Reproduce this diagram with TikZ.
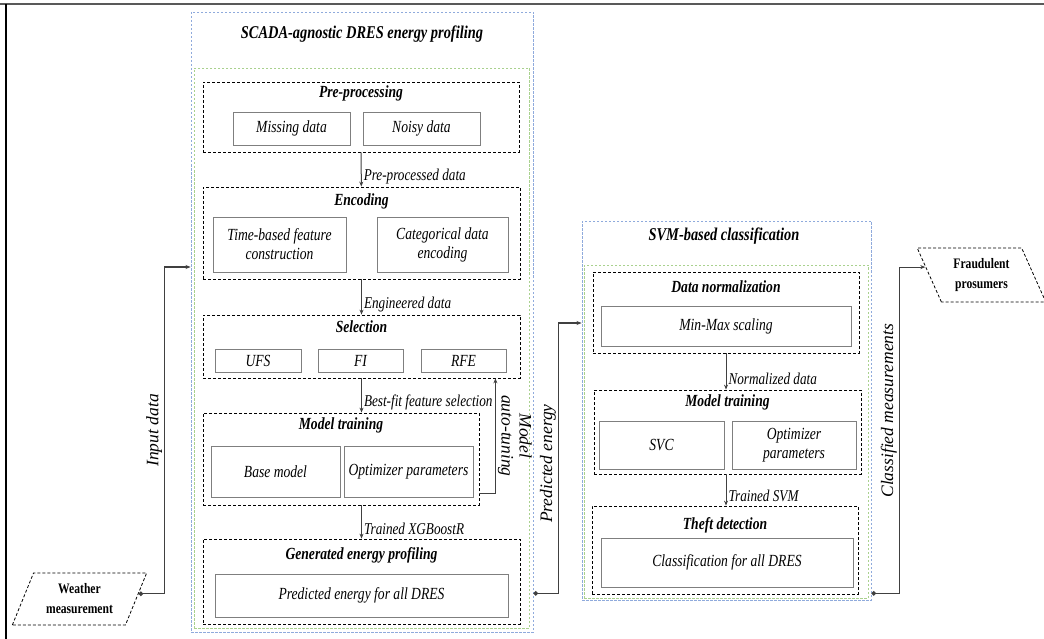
\documentclass[tikz,border=0pt]{standalone}
\usepackage{fontspec}
\setmainfont{Liberation Serif}[FakeStretch=0.8]
\newfontfamily\rotserif{Liberation Serif}
\usetikzlibrary{arrows.meta,positioning,calc,shapes.geometric}
\definecolor{modblue}{HTML}{8FAADC}
\definecolor{modgreen}{HTML}{A9D18E}
\definecolor{itemgray}{HTML}{7F7F7F}
\definecolor{linegray}{HTML}{404040}

\begin{document}
\begin{tikzpicture}[
  x=1pt, y=-1pt,
  module/.style={draw=modblue, dash pattern=on 2.5pt off 1.5pt, line width=0.9pt, inner sep=0pt},
  modinner/.style={draw=modgreen, dash pattern=on 2.5pt off 1.5pt, line width=0.9pt, inner sep=0pt},
  stage/.style={draw=black, dash pattern=on 3pt off 2pt, line width=0.8pt, inner sep=0pt},
  item/.style={draw=itemgray, line width=0.8pt, inner sep=0pt, align=center, font=\fontsize{17}{19}\selectfont\itshape},
  stitle/.style={font=\fontsize{17}{19}\selectfont\bfseries\itshape},
  mtitle/.style={font=\fontsize{18}{20}\selectfont\bfseries\itshape},
  io/.style={trapezium, trapezium stretches=true, draw=black, dash pattern=on 3pt off 2pt, line width=0.8pt, align=center, inner sep=0pt, font=\fontsize{14.5}{20}\selectfont\bfseries},
  arr/.style={-{Stealth[length=5pt,width=4pt]}, draw=linegray, line width=1pt},
  conn/.style={{Circle[length=4.5pt]}-{Stealth[length=5pt,width=4pt]}, draw=linegray, line width=1.2pt},
  lbl/.style={font=\fontsize{16.5}{18}\selectfont\itshape, inner sep=2pt},
  vlbl/.style={font=\rotserif\fontsize{17.5}{18}\selectfont\itshape, inner sep=2pt},
]
  \useasboundingbox (0,0) rectangle (1044,639);
  % Frame
  \draw[line width=2.5pt, gray!70!black] (0,4) -- (1044,4);
  \draw[line width=1.5pt, black] (6,4) -- (6,639);

  % Modules
  \node[module, minimum width=342pt, minimum height=620pt] (prof) at (362,322) {};
  \node[modinner, minimum width=335pt, minimum height=560pt] (profin) at (361.5,348) {};
  \node[mtitle] (proft) at (362,34) {SCADA-agnostic DRES energy profiling};

  \node[module, minimum width=289pt, minimum height=379pt] (svm) at (726.5,410.5) {};
  \node[modinner, minimum width=284pt, minimum height=333pt] (svmin) at (726,431.5) {};
  \node[mtitle] (svmt) at (724,236) {SVM-based classification};

  % Pre-processing
  \node[stage, minimum width=316pt, minimum height=70pt] (pre) at (361,117) {};
  \node[stitle] (pret) at (361,93) {Pre-processing};
  \node[item, minimum width=117pt, minimum height=33pt] (miss) at (291.5,128.5) {Missing data};
  \node[item, minimum width=117pt, minimum height=33pt] (noisy) at (421.5,128.5) {Noisy data};

  % Encoding
  \node[stage, minimum width=317pt, minimum height=92pt] (enc) at (361.5,233) {};
  \node[stitle] (enct) at (361.5,201) {Encoding};
  \node[item, minimum width=133pt, minimum height=55pt] (timef) at (279.5,244.5) {Time-based feature\\construction};
  \node[item, minimum width=131pt, minimum height=55pt] (catg) at (442.5,244.5) {Categorical data\\encoding};

  % Selection
  \node[stage, minimum width=317pt, minimum height=63pt] (sel) at (361.5,346.5) {};
  \node[stitle] (selt) at (361.5,327) {Selection};
  \node[item, minimum width=86pt, minimum height=23pt] (ufs) at (258,360.5) {UFS};
  \node[item, minimum width=85pt, minimum height=23pt] (fi) at (360.5,360.5) {FI};
  \node[item, minimum width=85pt, minimum height=23pt] (rfe) at (463.5,360.5) {RFE};

  % Model training
  \node[stage, minimum width=276pt, minimum height=92pt] (train) at (341,459) {};
  \node[stitle] (traint) at (341,425) {Model training};
  \node[item, minimum width=129pt, minimum height=51pt] (base) at (275.5,471.5) {Base model};
  \node[item, minimum width=129pt, minimum height=51pt] (opt) at (408.5,471.5) {Optimizer parameters};

  % Generated energy profiling
  \node[stage, minimum width=317pt, minimum height=85pt] (gen) at (361.5,581.5) {};
  \node[stitle] (gent) at (361.5,555) {Generated energy profiling};
  \node[item, minimum width=293pt, minimum height=43pt] (pred) at (361.5,595.5) {Predicted energy for all DRES};

  % SVM stages
  \node[stage, minimum width=266pt, minimum height=81pt] (norm) at (726,312.5) {};
  \node[stitle] (normt) at (726,287) {Data normalization};
  \node[item, minimum width=250pt, minimum height=40pt] (minmax) at (726,326) {Min-Max scaling};

  \node[stage, minimum width=267pt, minimum height=84pt] (mtrain) at (727.5,432) {};
  \node[stitle] (mtraint) at (727.5,402) {Model training};
  \node[item, minimum width=125pt, minimum height=48pt] (svc) at (661.5,445) {SVC};
  \node[item, minimum width=124pt, minimum height=48pt] (opt2) at (794,445) {Optimizer\\parameters};

  \node[stage, minimum width=266pt, minimum height=88pt] (theft) at (725,550) {};
  \node[stitle] (theftt) at (725,525) {Theft detection};
  \node[item, minimum width=252pt, minimum height=49pt] (clsf) at (727,562.5) {Classification for all DRES};

  % Inputs and outputs
  \node[io, trapezium left angle=63, trapezium right angle=117, minimum width=135pt, minimum height=52pt] (wea) at (79.5,599) {Weather\\measurement};
  \node[io, trapezium left angle=117, trapezium right angle=63, minimum width=129pt, minimum height=54pt] (fraud) at (981.5,275) {Fraudulent\\prosumers};

  % Edges
  \draw[arr] (pre) -- node[right, pos=0.7, lbl] {Pre-processed data} (enc);
  \draw[arr] (enc) -- node[right, pos=0.7, lbl] {Engineered data} (sel);
  \draw[arr] (sel.south) -- node[right, pos=0.7, lbl] {Best-fit feature selection} (sel.south |- train.north);
  \draw[arr] (train.south -| sel.south) -- node[right, pos=0.7, lbl] {Trained XGBoostR} (gen.north);
  \draw[arr] ($(train.south east)+(0,-12)$) -- ++(16,0) coordinate (tune)
    -- node[midway, rotate=-90, anchor=south, vlbl, align=center] {Model\\auto-tuning} (tune |- sel.south);
  \draw[arr] (norm) -- node[right, pos=0.7, lbl] {Normalized data} (norm |- mtrain.north);
  \draw[arr] (mtrain.south -| norm.south) -- node[right, pos=0.7, lbl] {Trained SVM} (theft.north -| norm.south);

  \draw[conn] (wea.5) -- ++(26,0) |- node[pos=0.25, sloped, above, vlbl] {Input data} ([yshift=55pt]prof.west);
  \draw[conn] ([yshift=39pt]prof.south east) -- ++(25,0) |- node[pos=0.24, sloped, above, vlbl] {Predicted energy} ([yshift=87.5pt]svm.west);
  \draw[conn] ([yshift=7pt]svm.south east) -- ++(28,0) |- node[pos=0.28, sloped, above, vlbl] {Classified measurements} (fraud.172);
\end{tikzpicture}
\end{document}
